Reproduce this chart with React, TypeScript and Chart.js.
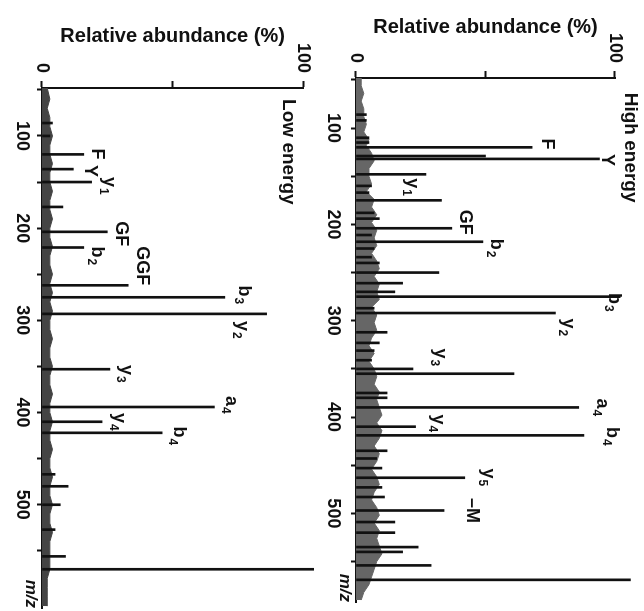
import React, { useEffect, useRef } from 'react';
import { Chart, registerables } from 'chart.js';

Chart.register(...registerables);

const FONT = '"Liberation Sans", Arial, Helvetica, sans-serif';

// ---------- axis ticks ----------
const mzTicks = [50, 100, 150, 200, 250, 300, 350, 400, 450, 500, 550];
const abundanceTicks = [0, 50, 100];

// ---------- High energy spectrum ----------
const highMz = [86, 92, 110, 115, 120, 129, 132, 148, 160, 167, 175, 188, 194, 204, 211, 218, 225, 234, 240, 250, 261, 270, 275, 287, 292, 312, 323, 331, 341, 350, 355, 375, 380, 390, 410, 419, 435, 443, 453, 463, 473, 483, 497, 509, 520, 535, 540, 554, 569];
const highAb = [4, 4, 5, 5, 68, 50, 94, 27, 6, 5, 33, 7, 9, 37, 6, 49, 7, 6, 9, 32, 18, 15, 102, 7, 77, 12, 9, 7, 6, 22, 61, 12, 12, 86, 23, 88, 12, 8, 10, 42, 10, 11, 34, 15, 15, 24, 18, 29, 106];

const highBaseMz = [48, 56, 64, 72, 80, 88, 96, 104, 112, 118, 126, 134, 142, 150, 158, 166, 174, 182, 190, 198, 206, 214, 222, 230, 238, 246, 254, 262, 270, 278, 286, 294, 302, 310, 318, 326, 334, 342, 350, 358, 366, 374, 382, 390, 398, 406, 414, 422, 430, 438, 446, 454, 462, 470, 478, 486, 494, 502, 510, 518, 526, 534, 542, 550, 558, 566, 574, 582, 590];
const highBaseAb = [2, 2, 3, 2, 3, 3, 4, 3, 5, 4, 6, 7, 5, 5, 6, 4, 7, 6, 8, 6, 8, 7, 8, 6, 8, 9, 7, 9, 8, 9, 6, 8, 7, 8, 6, 5, 7, 5, 7, 8, 7, 9, 8, 9, 10, 8, 10, 9, 7, 9, 8, 6, 8, 9, 7, 6, 8, 9, 7, 9, 8, 9, 10, 8, 7, 6, 5, 3, 2];

const highLabels = [
  { text: 'F', sub: '', mz: 116.6, ab: 73.7 },
  { text: 'Y', sub: '', mz: 133.2, ab: 96.9 },
  { text: 'y', sub: '1', mz: 161.3, ab: 21.6 },
  { text: 'GF', sub: '', mz: 197.7, ab: 42.1 },
  { text: 'b', sub: '2', mz: 224.7, ab: 54.1 },
  { text: 'b', sub: '3', mz: 280.8, ab: 99.6 },
  { text: 'y', sub: '2', mz: 306.8, ab: 81.9 },
  { text: 'y', sub: '3', mz: 337.9, ab: 32.4 },
  { text: 'a', sub: '4', mz: 389.9, ab: 95.0 },
  { text: 'y', sub: '4', mz: 406.5, ab: 31.7 },
  { text: 'b', sub: '4', mz: 420.0, ab: 98.8 },
  { text: 'y', sub: '5', mz: 462.6, ab: 51.0 },
  { text: '\u2013M', sub: '', mz: 496.9, ab: 44.8 },
];

// ---------- Low energy spectrum ----------
const lowMz = [86, 100, 120, 136, 150, 177, 204, 221, 262, 275, 293, 353, 394, 410, 422, 467, 480, 500, 527, 556, 570];
const lowAb = [4, 3, 16, 12, 19, 8, 25, 16, 33, 70, 86, 26, 66, 23, 46, 5, 10, 7, 5, 9, 104];

const lowBaseMz = [48, 60, 70, 80, 90, 100, 110, 120, 130, 140, 150, 160, 170, 180, 190, 200, 210, 220, 230, 240, 250, 260, 270, 280, 290, 300, 310, 320, 330, 340, 350, 360, 370, 380, 390, 400, 410, 420, 430, 440, 450, 460, 470, 480, 490, 500, 510, 520, 530, 540, 550, 560, 570, 580, 590, 600, 610];
const lowBaseAb = [2, 3, 2, 3, 3, 4, 3, 3, 4, 3, 3, 4, 3, 3, 4, 3, 3, 4, 3, 3, 4, 3, 4, 3, 4, 3, 3, 4, 3, 3, 4, 3, 3, 4, 3, 3, 4, 3, 3, 4, 3, 3, 4, 3, 3, 4, 3, 3, 4, 3, 3, 3, 3, 2, 2, 2, 2];

const lowLabels = [
  { text: 'F', sub: '', mz: 119.5, ab: 21.2 },
  { text: 'Y', sub: '', mz: 137.9, ab: 18.2 },
  { text: 'y', sub: '1', mz: 154.2, ab: 25.8 },
  { text: 'GF', sub: '', mz: 206.2, ab: 30.3 },
  { text: 'b', sub: '2', mz: 230.1, ab: 21.2 },
  { text: 'GGF', sub: '', mz: 240.9, ab: 38.3 },
  { text: 'b', sub: '3', mz: 272.4, ab: 77.3 },
  { text: 'y', sub: '2', mz: 310.3, ab: 76.5 },
  { text: 'y', sub: '3', mz: 358.0, ab: 32.2 },
  { text: 'a', sub: '4', mz: 391.6, ab: 72.3 },
  { text: 'y', sub: '4', mz: 410.0, ab: 29.5 },
  { text: 'b', sub: '4', mz: 425.2, ab: 52.3 },
];

type Lab = { text: string; sub: string; mz: number; ab: number };

type Panel = {
  name: string;
  nameMz: number;
  nameAb: number;
  mz: number[];
  ab: number[];
  baseMz: number[];
  baseAb: number[];
  baseColor: string;
  labels: Lab[];
  mzMin: number;
  mzMax: number;
  padTop: number;
  padRight: number;
  yAxisW: number;
  xAxisH: number;
  titlePad: number;
  xTickPad: number;
};

const highPanel: Panel = {
  name: 'High energy', nameMz: 120.3, nameAb: 105.8,
  mz: highMz, ab: highAb, baseMz: highBaseMz, baseAb: highBaseAb, baseColor: '#666',
  labels: highLabels, mzMin: 48, mzMax: 592,
  padTop: 29, padRight: 9, yAxisW: 78, xAxisH: 34, titlePad: 15, xTickPad: 7,
};

const lowPanel: Panel = {
  name: 'Low energy', nameMz: 117.3, nameAb: 94.3,
  mz: lowMz, ab: lowAb, baseMz: lowBaseMz, baseAb: lowBaseAb, baseColor: '#444',
  labels: lowLabels, mzMin: 48, mzMax: 612,
  padTop: 16, padRight: 3, yAxisW: 88, xAxisH: 42, titlePad: 24, xTickPad: 4,
};

function pts(xs: number[], ys: number[]) {
  return xs.map((x, i) => ({ x, y: ys[i] }));
}

function makeLabelPlugin(p: Panel) {
  return {
    id: 'peakLabels',
    afterDraw(chart: any) {
      const { ctx, chartArea, scales } = chart;
      const xs = scales.x;
      const ys = scales.y;
      ctx.save();
      ctx.fillStyle = '#111';
      ctx.textBaseline = 'middle';
      ctx.textAlign = 'left';
      const mainFont = `bold 18px ${FONT}`;
      const subFont = `bold 12px ${FONT}`;
      for (const l of p.labels) {
        const px = xs.getPixelForValue(l.mz);
        const py = ys.getPixelForValue(l.ab);
        ctx.font = mainFont;
        const wm = ctx.measureText(l.text).width;
        ctx.font = subFont;
        const wsub = l.sub ? ctx.measureText(l.sub).width + 1 : 0;
        const x0 = px - (wm + wsub) / 2;
        ctx.font = mainFont;
        ctx.fillText(l.text, x0, py);
        if (l.sub) {
          ctx.font = subFont;
          ctx.fillText(l.sub, x0 + wm + 1, py + 6);
        }
      }
      // panel name
      ctx.font = `bold 19px ${FONT}`;
      ctx.textAlign = 'center';
      ctx.fillText(p.name, xs.getPixelForValue(p.nameMz), ys.getPixelForValue(p.nameAb));
      // m/z axis title
      ctx.font = `italic bold 17px ${FONT}`;
      ctx.textAlign = 'right';
      ctx.textBaseline = 'top';
      ctx.fillText('m/z', chartArea.right, chartArea.bottom + 3);
      ctx.restore();
    },
  };
}

function buildConfig(p: Panel): any {
  return {
    type: 'bar',
    data: {
      datasets: [
        {
          type: 'line',
          data: pts(p.baseMz, p.baseAb),
          fill: 'origin',
          backgroundColor: p.baseColor,
          borderColor: p.baseColor,
          borderWidth: 1,
          pointRadius: 0,
          tension: 0,
          order: 2,
        },
        {
          type: 'bar',
          data: pts(p.mz, p.ab),
          backgroundColor: '#111',
          borderWidth: 0,
          barThickness: 2,
          clip: false,
          order: 1,
        },
      ],
    },
    options: {
      animation: false,
      responsive: false,
      maintainAspectRatio: false,
      events: [],
      layout: { padding: { top: p.padTop, right: p.padRight, left: 0, bottom: 0 } },
      plugins: {
        legend: { display: false },
        tooltip: { enabled: false },
        title: { display: false },
      },
      scales: {
        x: {
          type: 'linear',
          min: p.mzMin,
          max: p.mzMax,
          offset: false,
          position: 'bottom',
          grid: { drawOnChartArea: false, offset: false, tickLength: 5, tickWidth: 2, color: '#111' },
          border: { color: '#111', width: 2 },
          ticks: {
            autoSkip: false,
            maxRotation: 0,
            minRotation: 0,
            padding: p.xTickPad,
            color: '#111',
            font: { family: FONT, size: 18, weight: 'bold' },
            callback: (v: number) => (v % 100 === 0 ? String(v) : ''),
          },
          afterBuildTicks: (s: any) => {
            s.ticks = mzTicks.map((v) => ({ value: v }));
          },
          afterFit: (s: any) => {
            s.height = p.xAxisH;
          },
        },
        y: {
          type: 'linear',
          min: 0,
          max: 100,
          position: 'left',
          grid: { drawOnChartArea: false, tickLength: 7, tickWidth: 2, color: '#111' },
          border: { color: '#111', width: 2 },
          ticks: {
            padding: 8,
            color: '#111',
            font: { family: FONT, size: 18, weight: 'bold' },
            callback: (v: number) => (v === 50 ? '' : String(v)),
          },
          afterBuildTicks: (s: any) => {
            s.ticks = abundanceTicks.map((v) => ({ value: v }));
          },
          title: {
            display: true,
            text: 'Relative abundance (%)',
            color: '#111',
            font: { family: FONT, size: 20, weight: 'bold', lineHeight: 1.2 },
            padding: { top: p.titlePad, bottom: 0 },
          },
          afterFit: (s: any) => {
            s.width = p.yAxisW;
          },
        },
      },
    },
    plugins: [makeLabelPlugin(p)],
  };
}

export default function App() {
  const hiRef = useRef<HTMLCanvasElement>(null);
  const loRef = useRef<HTMLCanvasElement>(null);

  useEffect(() => {
    document.body.style.margin = '0';
    document.body.style.overflow = 'hidden';
    const c1 = new Chart(hiRef.current as HTMLCanvasElement, buildConfig(highPanel));
    const c2 = new Chart(loRef.current as HTMLCanvasElement, buildConfig(lowPanel));
    return () => {
      c1.destroy();
      c2.destroy();
    };
  }, []);

  return (
    <div
      style={{
        position: 'absolute',
        left: 0,
        top: 0,
        width: 611,
        height: 644,
        background: '#fff',
        transformOrigin: '0 0',
        transform: 'translate(644px, 0px) rotate(90deg)',
      }}
    >
      <canvas ref={hiRef} width={611} height={322} style={{ position: 'absolute', left: 0, top: 0 }} />
      <canvas ref={loRef} width={611} height={322} style={{ position: 'absolute', left: 0, top: 322 }} />
    </div>
  );
}
